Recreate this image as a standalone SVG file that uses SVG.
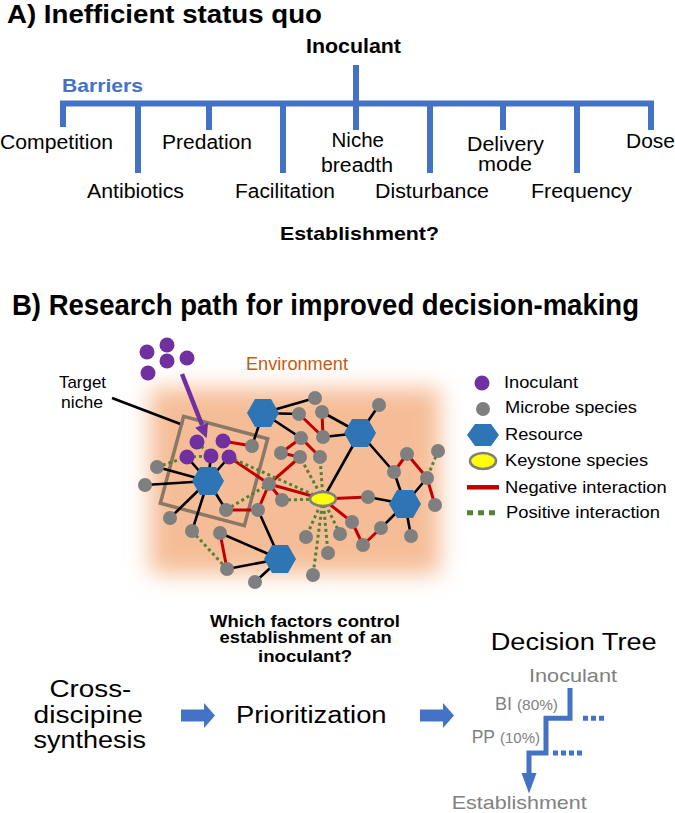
<svg xmlns="http://www.w3.org/2000/svg" xmlns:xlink="http://www.w3.org/1999/xlink" width="675" height="813" viewBox="0 0 675 813">
<style>
text{font-family:"Liberation Sans",Arial,sans-serif;fill:#000}
.bd{font-weight:bold}
.tree{stroke:#4472c4;stroke-width:6;fill:none}
.b{stroke:#000;stroke-width:2.6;fill:none}
.r{stroke:#c00000;stroke-width:3;fill:none}
.g{stroke:#548235;stroke-width:3;stroke-dasharray:3 3;fill:none}
.gy{fill:#7f7f7f}
.pu{fill:#7030a0}
.hx{fill:#2e75b6}
.ks{fill:#ffff00;stroke:#7f7f7f;stroke-width:2.5}
.dt{stroke:#4472c4;stroke-width:5;fill:none}
.gt{fill:#808080}
</style>
<defs>
<polygon id="hex" points="-16,0 -8,-14 8,-14 16,0 8,14 -8,14"/>
<filter id="soft" x="-30%" y="-30%" width="160%" height="160%"><feGaussianBlur stdDeviation="11"/></filter>
</defs>

<!-- Part A -->
<text class="bd" x="7" y="22.5" font-size="25" textLength="315" lengthAdjust="spacingAndGlyphs">A) Inefficient status quo</text>
<g id="a-tree">
<path class="tree" d="M356 65 V130 M60 103.5 H654 M63 103.5 V127 M138 103.5 V173 M209 103.5 V130 M283 103.5 V173 M430 103.5 V173 M503 103.5 V130 M577 103.5 V173 M651 103.5 V130"/>
</g>
<g id="a-labels" font-size="20">
<text class="bd" x="306" y="53" font-size="19.5" textLength="95" lengthAdjust="spacingAndGlyphs">Inoculant</text>
<text class="bd" x="62" y="92" font-size="18.5" textLength="81" lengthAdjust="spacingAndGlyphs" style="fill:#4472c4">Barriers</text>
<text x="0" y="149" textLength="113" lengthAdjust="spacingAndGlyphs">Competition</text>
<text x="162" y="149" textLength="90" lengthAdjust="spacingAndGlyphs">Predation</text>
<text x="331.5" y="147" textLength="52.5" lengthAdjust="spacingAndGlyphs">Niche</text>
<text x="321" y="172" textLength="72" lengthAdjust="spacingAndGlyphs">breadth</text>
<text x="467" y="151" textLength="77" lengthAdjust="spacingAndGlyphs">Delivery</text>
<text x="478" y="171" textLength="54" lengthAdjust="spacingAndGlyphs">mode</text>
<text x="626" y="148" textLength="49" lengthAdjust="spacingAndGlyphs">Dose</text>
<text x="87" y="198" textLength="97" lengthAdjust="spacingAndGlyphs">Antibiotics</text>
<text x="235" y="198" textLength="100" lengthAdjust="spacingAndGlyphs">Facilitation</text>
<text x="375" y="198" textLength="114" lengthAdjust="spacingAndGlyphs">Disturbance</text>
<text x="531" y="198" textLength="101" lengthAdjust="spacingAndGlyphs">Frequency</text>
<text class="bd" x="280" y="240" font-size="19" textLength="159" lengthAdjust="spacingAndGlyphs">Establishment?</text>
</g>

<!-- Part B -->
<text class="bd" x="12" y="315" font-size="29" textLength="627" lengthAdjust="spacingAndGlyphs">B) Research path for improved decision-making</text>

<g id="environment">
<rect x="150" y="388" width="290" height="186" fill="#f5bd97" filter="url(#soft)"/>
<text x="246" y="370" font-size="17.5" textLength="102" lengthAdjust="spacingAndGlyphs" style="fill:#c55a11">Environment</text>
</g>

<g id="target-niche">
<text x="59" y="388" font-size="17" textLength="47" lengthAdjust="spacingAndGlyphs">Target</text>
<text x="61" y="408" font-size="17" textLength="42" lengthAdjust="spacingAndGlyphs">niche</text>
<line class="b" x1="112" y1="398" x2="183" y2="425"/>
<rect x="170.5" y="426" width="87" height="90" transform="rotate(15 214 471)" fill="none" stroke="#8b7765" stroke-width="3.5"/>
</g>

<g id="connectors">
<path class="b" d="M263 413 L315 398 M263 413 L299 414 M263 413 L301 438 M263 413 L252 446 M322 412 L360 433 M323 437 L360 433 M379 405 L360 433 M360 433 L323 499 M360 433 L394 472 M394 472 L405 504 M427 478 L405 504 M405 504 L368 497 M405 504 L381 528 M405 504 L411 536 M208 481 L157 467 M208 481 L145 485 M208 481 L170 518 M208 481 L192 531 M208 481 L226 510 M208 481 L187 457 M208 481 L211 456 M208 481 L229 457 M258 510 L280 559 M220 533 L280 559 M227 569 L280 559 M280 559 L255 582"/>
<path class="r" d="M223 441 L252 446 M229 457 L269 484 M299 414 L323 437 M322 412 L323 437 M301 438 L281 453 M301 438 L320 457 M281 453 L300 457 M300 457 L269 484 M269 484 L323 499 M269 484 L258 510 M269 484 L282 500 M226 510 L258 510 M323 499 L368 497 M323 499 L352 522 M352 522 L363 545 M363 545 L381 528 M220 533 L227 569 M407 454 L394 472 M407 454 L427 478 M427 478 L435 505"/>
<path class="g" d="M157 467 L187 457 M229 457 L323 499 M226 510 L269 484 M282 500 L323 499 M323 499 L300 457 M323 499 L320 457 M323 499 L306 537 M323 499 L340 534 M323 499 L328 553 M323 499 L313 575 M192 531 L227 569 M438 451 L427 478 M197 442 L211 456 M187 457 L211 456"/>
<line x1="182" y1="374" x2="202" y2="425" stroke="#7030a0" stroke-width="4.5"/>
<polygon points="206.7,438.3 208.1,422.8 195.1,427.8" fill="#7030a0"/>
</g>

<g id="inoculant-drop">
<circle class="pu" cx="147" cy="352" r="7.5"/><circle class="pu" cx="167" cy="345" r="7.5"/><circle class="pu" cx="167" cy="361" r="7.5"/><circle class="pu" cx="187" cy="358" r="7.5"/><circle class="pu" cx="148" cy="373" r="7.5"/>
</g>

<g id="resources">
<g id="H1"><use href="#hex" class="hx" x="263" y="413"/></g>
<g id="H2"><use href="#hex" class="hx" x="360" y="433"/></g>
<g id="H3"><use href="#hex" class="hx" x="208" y="481"/></g>
<g id="H4"><use href="#hex" class="hx" x="405" y="504"/></g>
<g id="H5"><use href="#hex" class="hx" x="280" y="559"/></g>
</g>

<g id="inoculant-nodes">
<g id="p1"><circle class="pu" cx="197" cy="442" r="7.5"/></g>
<g id="p2"><circle class="pu" cx="223" cy="441" r="7.5"/></g>
<g id="p3"><circle class="pu" cx="187" cy="457" r="7.5"/></g>
<g id="p4"><circle class="pu" cx="211" cy="456" r="7.5"/></g>
<g id="p5"><circle class="pu" cx="229" cy="457" r="7.5"/></g>
</g>

<g id="microbes">
<g id="m1"><circle class="gy" cx="315" cy="398" r="7"/></g>
<g id="m2"><circle class="gy" cx="379" cy="405" r="7"/></g>
<g id="m3"><circle class="gy" cx="299" cy="414" r="7"/></g>
<g id="m4"><circle class="gy" cx="322" cy="412" r="7"/></g>
<g id="m5"><circle class="gy" cx="252" cy="446" r="7"/></g>
<g id="m6"><circle class="gy" cx="301" cy="438" r="7"/></g>
<g id="m7"><circle class="gy" cx="323" cy="437" r="7"/></g>
<g id="m8"><circle class="gy" cx="281" cy="453" r="7"/></g>
<g id="m9"><circle class="gy" cx="300" cy="457" r="7"/></g>
<g id="m10"><circle class="gy" cx="320" cy="457" r="7"/></g>
<g id="m11"><circle class="gy" cx="407" cy="454" r="7"/></g>
<g id="m12"><circle class="gy" cx="438" cy="451" r="7"/></g>
<g id="m13"><circle class="gy" cx="394" cy="472" r="7"/></g>
<g id="m14"><circle class="gy" cx="427" cy="478" r="7"/></g>
<g id="m15"><circle class="gy" cx="157" cy="467" r="7"/></g>
<g id="m16"><circle class="gy" cx="145" cy="485" r="7"/></g>
<g id="m17"><circle class="gy" cx="269" cy="484" r="7"/></g>
<g id="m18"><circle class="gy" cx="282" cy="500" r="7"/></g>
<g id="m19"><circle class="gy" cx="368" cy="497" r="7"/></g>
<g id="m20"><circle class="gy" cx="435" cy="505" r="7"/></g>
<g id="m21"><circle class="gy" cx="226" cy="510" r="7"/></g>
<g id="m22"><circle class="gy" cx="258" cy="510" r="7"/></g>
<g id="m23"><circle class="gy" cx="170" cy="518" r="7"/></g>
<g id="m24"><circle class="gy" cx="192" cy="531" r="7"/></g>
<g id="m25"><circle class="gy" cx="352" cy="522" r="7"/></g>
<g id="m26"><circle class="gy" cx="381" cy="528" r="7"/></g>
<g id="m27"><circle class="gy" cx="306" cy="537" r="7"/></g>
<g id="m28"><circle class="gy" cx="340" cy="534" r="7"/></g>
<g id="m29"><circle class="gy" cx="220" cy="533" r="7"/></g>
<g id="m30"><circle class="gy" cx="363" cy="545" r="7"/></g>
<g id="m31"><circle class="gy" cx="411" cy="536" r="7"/></g>
<g id="m32"><circle class="gy" cx="328" cy="553" r="7"/></g>
<g id="m33"><circle class="gy" cx="227" cy="569" r="7"/></g>
<g id="m34"><circle class="gy" cx="313" cy="575" r="7"/></g>
<g id="m35"><circle class="gy" cx="255" cy="582" r="7"/></g>
</g>

<g id="keystone"><ellipse class="ks" cx="323" cy="499" rx="13" ry="7"/></g>

<g id="legend" font-size="16">
<circle class="pu" cx="482" cy="383" r="7.5"/>
<text x="504" y="388.3" textLength="74" lengthAdjust="spacingAndGlyphs">Inoculant</text>
<circle class="gy" cx="483" cy="409" r="7"/>
<text x="505" y="413.3" textLength="132" lengthAdjust="spacingAndGlyphs">Microbe species</text>
<polygon class="hx" points="467,435 475,424 491,424 499,435 491,446 475,446"/>
<text x="505" y="440" textLength="78" lengthAdjust="spacingAndGlyphs">Resource</text>
<ellipse class="ks" cx="483" cy="461" rx="13" ry="8" stroke-width="3"/>
<text x="505" y="466" textLength="143" lengthAdjust="spacingAndGlyphs">Keystone species</text>
<line x1="467" y1="487.3" x2="499" y2="487.3" stroke="#c00000" stroke-width="4.5"/>
<text x="505" y="492.7" textLength="161.7" lengthAdjust="spacingAndGlyphs">Negative interaction</text>
<line x1="467" y1="512.7" x2="497" y2="512.7" stroke="#548235" stroke-width="5" stroke-dasharray="6 5"/>
<text x="506" y="518.3" textLength="154" lengthAdjust="spacingAndGlyphs">Positive interaction</text>
</g>

<g id="question" font-size="16" class="bd" text-anchor="middle">
<text x="305" y="626.7" textLength="190" lengthAdjust="spacingAndGlyphs">Which factors control</text>
<text x="305.6" y="643.3" textLength="172" lengthAdjust="spacingAndGlyphs">establishment of an</text>
<text x="305" y="661.7" textLength="94" lengthAdjust="spacingAndGlyphs">inoculant?</text>
</g>

<g id="synthesis" font-size="23" text-anchor="middle">
<text x="90.4" y="696.7" textLength="82" lengthAdjust="spacingAndGlyphs">Cross-</text>
<text x="88.3" y="723.3" textLength="109.4" lengthAdjust="spacingAndGlyphs">discipine</text>
<text x="89.8" y="748.3" textLength="112.5" lengthAdjust="spacingAndGlyphs">synthesis</text>
</g>

<g id="arrow1"><polygon points="181,709.5 204,709.5 204,703 215,715.5 204,728 204,721.5 181,721.5" fill="#4472c4"/></g>

<g id="prioritization"><text x="236" y="723.3" font-size="23" textLength="150.6" lengthAdjust="spacingAndGlyphs">Prioritization</text></g>

<g id="arrow2"><polygon points="420,709.5 443,709.5 443,703 454,715.5 443,728 443,721.5 420,721.5" fill="#4472c4"/></g>

<g id="decision-tree">
<text x="490.7" y="650" font-size="23" textLength="166" lengthAdjust="spacingAndGlyphs">Decision Tree</text>
<text class="gt" x="529" y="681.7" font-size="18.5" textLength="88" lengthAdjust="spacingAndGlyphs">Inoculant</text>
<text class="gt" x="495" y="710" font-size="18"><tspan textLength="17" lengthAdjust="spacingAndGlyphs">BI</tspan><tspan x="517" font-size="14" textLength="41" lengthAdjust="spacingAndGlyphs">(80%)</tspan></text>
<text class="gt" x="471.7" y="743.3" font-size="18"><tspan textLength="23.3" lengthAdjust="spacingAndGlyphs">PP</tspan><tspan x="500" font-size="14" textLength="40" lengthAdjust="spacingAndGlyphs">(10%)</tspan></text>
<path class="dt" d="M570 688 V718.3 H546 V753 H526.5 M529 753 V775"/>
<path class="dt" d="M583 718.3 H604 M553 753 H584" stroke-dasharray="5 3"/>
<polygon points="521.5,773 536.5,773 529,793.5" fill="#4472c4"/>
<text class="gt" x="451.7" y="808.5" font-size="19" textLength="135" lengthAdjust="spacingAndGlyphs">Establishment</text>
</g>
</svg>
